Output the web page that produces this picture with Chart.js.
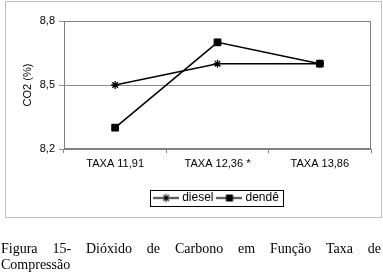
<!DOCTYPE html>
<html><head><meta charset="utf-8">
<script src="https://cdn.jsdelivr.net/npm/chart.js@4.4.1/dist/chart.umd.min.js"></script>
<style>
html,body{margin:0;padding:0;background:#fff;width:383px;height:276px;overflow:hidden;}
#wrap{position:absolute;left:0;top:0;width:383px;height:218px;}
#frame{position:absolute;left:5px;top:1px;width:375px;height:215px;border:1px solid #c0c0c0;pointer-events:none;}
.cap{position:absolute;left:1px;width:380px;font-family:"Liberation Serif","Times New Roman",serif;font-size:14px;line-height:16px;color:#000;white-space:nowrap;}
#cap1{top:241px;text-align:justify;text-align-last:justify;}
#cap2{top:257px;text-align:left;}
</style></head><body>
<div id="wrap"><canvas id="c" width="383" height="218"></canvas></div>
<div id="frame"></div>
<div class="cap" id="cap1">Figura 15- Dióxido de Carbono em Função Taxa de</div>
<div class="cap" id="cap2">Compressão</div>
<script>
const categories = ['TAXA 11,91', 'TAXA 12,36 *', 'TAXA 13,86'];
const dieselValues = [8.5, 8.6, 8.6];
const dendeValues = [8.3, 8.7, 8.6];
const seriesNames = ['diesel', 'dendê'];
const yTicks = [8.2, 8.5, 8.8];
const yTitle = 'CO2 (%)';

const FONT = '"Liberation Sans", Arial, sans-serif';
Chart.defaults.font.family = FONT;
Chart.defaults.font.size = 11;
Chart.defaults.color = '#000';

function makeLegendIcon(kind){
  const c = document.createElement('canvas');
  c.width = 26; c.height = 11;
  const g = c.getContext('2d');
  g.strokeStyle = '#000'; g.fillStyle = '#000'; g.lineWidth = 1.5;
  g.beginPath(); g.moveTo(0, 5.5); g.lineTo(26, 5.5); g.stroke();
  const cx = 13, cy = 5.5;
  if (kind === 'star') {
    g.lineWidth = 1.2;
    const r = 4;
    g.beginPath();
    for (let i = 0; i < 4; i++) {
      const a = i * Math.PI / 4;
      g.moveTo(cx - r * Math.cos(a), cy - r * Math.sin(a));
      g.lineTo(cx + r * Math.cos(a), cy + r * Math.sin(a));
    }
    g.stroke();
  } else {
    g.fillRect(cx - 3.5, cy - 3.5, 7, 7);
  }
  return c;
}
const legendIcons = [makeLegendIcon('star'), makeLegendIcon('rect')];

const plotFrame = {
  id: 'plotFrame',
  beforeDatasetsDraw(chart) {
    const a = chart.chartArea, g = chart.ctx;
    g.save();
    g.strokeStyle = '#808080'; g.lineWidth = 1;
    const l = Math.round(a.left) + 0.5, t = Math.round(a.top) + 0.5;
    const r = Math.round(a.right) - 0.5, b = Math.round(a.bottom) - 0.5;
    g.strokeRect(l, t, r - l, b - t);
    g.restore();
  }
};
const legendBox = {
  id: 'legendBox',
  afterDraw(chart) {
    const lg = chart.legend;
    if (!lg || !lg.legendHitBoxes || !lg.legendHitBoxes.length) return;
    const hb = lg.legendHitBoxes;
    let l = Infinity, r = -Infinity, t = Infinity, b = -Infinity;
    hb.forEach(h => { l = Math.min(l, h.left); r = Math.max(r, h.left + h.width); t = Math.min(t, h.top); b = Math.max(b, h.top + h.height); });
    const g = chart.ctx;
    g.save();
    g.strokeStyle = '#000'; g.lineWidth = 1;
    const x0 = Math.round(l - 6) + 0.5, x1 = Math.round(r + 4) + 0.5;
    const y0 = Math.round(t - 2) + 0.5, y1 = Math.round(b + 2) + 0.5;
    g.strokeRect(x0, y0, x1 - x0, y1 - y0);
    g.restore();
  }
};

new Chart(document.getElementById('c'), {
  type: 'line',
  data: {
    labels: categories,
    datasets: [
      { label: seriesNames[0], data: dieselValues, borderColor: '#000', backgroundColor: '#000',
        borderWidth: 1.5, tension: 0, fill: false,
        pointStyle: 'star', pointRadius: 4, pointBorderWidth: 1.3, pointBorderColor: '#000' },
      { label: seriesNames[1], data: dendeValues, borderColor: '#000', backgroundColor: '#000',
        borderWidth: 1.5, tension: 0, fill: false,
        pointStyle: 'rect', pointRadius: 4.8, pointBorderWidth: 1, pointBorderColor: '#000', pointBackgroundColor: '#000' }
    ]
  },
  options: {
    responsive: false, animation: false, events: [],
    layout: { padding: { top: 21, right: 12, bottom: 4, left: 0 } },
    scales: {
      x: {
        type: 'category', offset: true,
        grid: { offset: true, drawOnChartArea: false, drawTicks: true, tickLength: 4, color: '#808080' },
        border: { color: '#808080' },
        ticks: { color: '#000', font: { size: 11 }, padding: 4, maxRotation: 0, autoSkip: false },
        afterFit(s) { s.height = 37; }
      },
      y: {
        min: 8.2, max: 8.8,
        afterBuildTicks(s) { s.ticks = yTicks.map(v => ({ value: v })); },
        grid: { color: '#8c8c8c', tickLength: 5, drawTicks: true },
        border: { color: '#808080' },
        ticks: { color: '#000', font: { size: 11 }, padding: 4, callback: v => Number(v).toFixed(1).replace('.', ',') },
        title: { display: true, text: yTitle, color: '#000', font: { size: 11 }, padding: { top: 21, bottom: 0 } },
        afterFit(s) { s.width = 64; }
      }
    },
    plugins: {
      tooltip: { enabled: false },
      legend: {
        position: 'bottom', fullSize: false,
        labels: {
          usePointStyle: true, pointStyleWidth: 20, padding: 6,
          font: { size: 12 }, color: '#000',
          generateLabels(chart) {
            return chart.data.datasets.map((ds, i) => ({
              text: ds.label, datasetIndex: i, pointStyle: legendIcons[i],
              fillStyle: 'transparent', strokeStyle: 'transparent', lineWidth: 0,
              hidden: false, fontColor: '#000'
            }));
          }
        }
      }
    }
  },
  plugins: [plotFrame, legendBox]
});
</script>
</body></html>
